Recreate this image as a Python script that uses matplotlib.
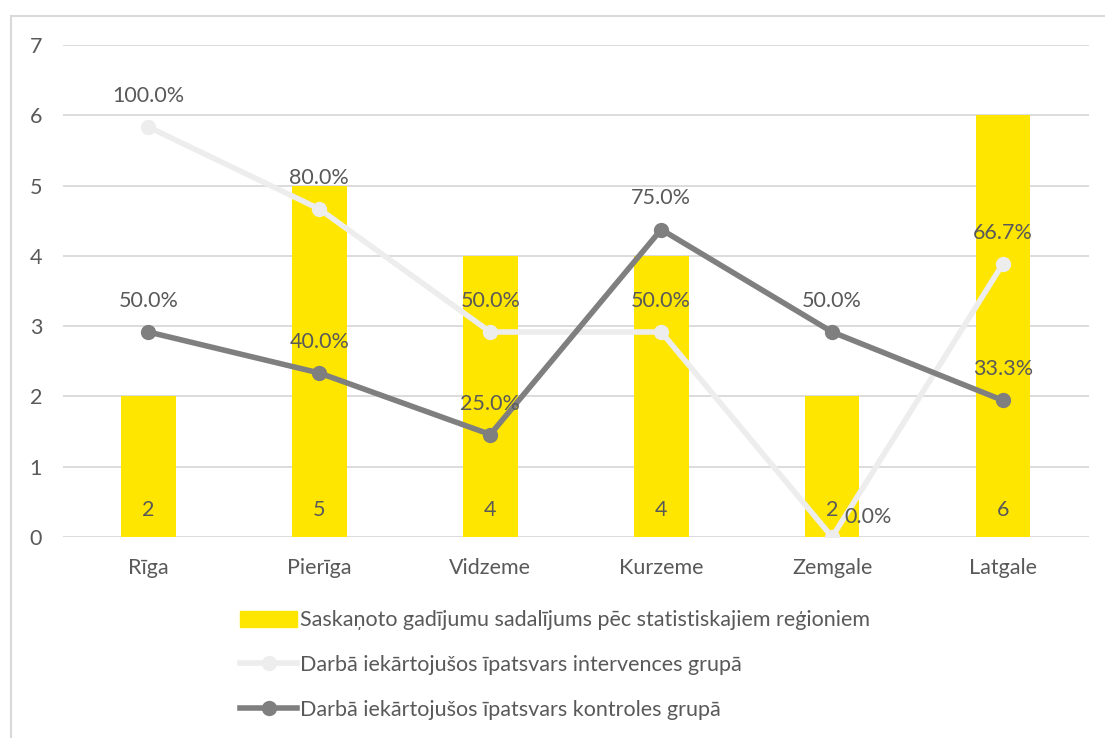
import matplotlib
matplotlib.use("Agg")
import matplotlib.pyplot as plt
from matplotlib.patches import Rectangle
from matplotlib.lines import Line2D
import numpy as np

plt.rcParams['font.family'] = ['Lato', 'DejaVu Sans']

regions = ['Rīga', 'Pierīga', 'Vidzeme', 'Kurzeme', 'Zemgale', 'Latgale']
cases = [2, 5, 4, 4, 2, 6]
share_intervention = [1.0, 0.8, 0.5, 0.5, 0.0, 0.667]
share_control = [0.5, 0.4, 0.25, 0.75, 0.5, 0.333]

bar_label = 'Saskaņoto gadījumu sadalījums pēc statistiskajiem reģioniem'
int_label = 'Darbā iekārtojušos īpatsvars intervences grupā'
ctl_label = 'Darbā iekārtojušos īpatsvars kontroles grupā'

yellow = '#FFE600'
light = '#EDEDED'
dark = '#7F7F7F'
text_c = '#595959'
grid_c = '#D9D9D9'
fs = 15.5

fig = plt.figure(figsize=(11.05, 7.38), dpi=100)
# chart area border (runs off the right and bottom edges)
fig.patches.append(Rectangle((11 / 1105, -0.1), 1.2, 1 - 16 / 738 + 0.1,
                             transform=fig.transFigure, fill=False,
                             edgecolor=grid_c, lw=1.5))

ax = fig.add_axes([63 / 1105, 1 - 537 / 738, (1088.5 - 63) / 1105, (537 - 45) / 738])
x = np.arange(len(regions))

ax.bar(x, cases, width=0.32, color=yellow, zorder=2)
ax.set_xlim(-0.5, len(regions) - 0.5)
ax.set_ylim(0, 7)
ax.set_yticks(range(8))
ax.grid(axis='y', color=grid_c, lw=1.3, zorder=0)
ax.set_axisbelow(True)
for s in ax.spines.values():
    s.set_visible(False)
ax.tick_params(length=0, colors=text_c, labelsize=fs)
ax.tick_params(axis='y', pad=15)
ax.tick_params(axis='x', pad=15)
ax.set_xticks(x)
ax.set_xticklabels(regions)

for xi, v in zip(x, cases):
    ax.annotate(str(v), (xi, 0), xytext=(0, 27), textcoords='offset pixels',
                ha='center', va='center', fontsize=fs, color=text_c, zorder=5)

ax2 = ax.twinx()
ax2.set_ylim(0, 1.2)
ax2.axis('off')
ax2.plot(x, share_intervention, color=light, lw=4, marker='o', ms=10, zorder=3,
         solid_capstyle='round')
ax2.plot(x, share_control, color=dark, lw=4, marker='o', ms=10, zorder=4,
         solid_capstyle='round')

for xi, v in zip(x, share_intervention):
    if v == 0:
        off = (36, 20)
    else:
        off = (0, 31)
    ax2.annotate(f'{v * 100:.1f}%', (xi, v), xytext=off, textcoords='offset pixels',
                 ha='center', va='center', fontsize=fs, color=text_c, zorder=6)
for xi, v in zip(x, share_control):
    ax2.annotate(f'{v * 100:.1f}%', (xi, v), xytext=(0, 31), textcoords='offset pixels',
                 ha='center', va='center', fontsize=fs, color=text_c, zorder=6)

handles = [
    Rectangle((0, 0), 1, 1, color=yellow),
    Line2D([], [], color=light, lw=4, marker='o', ms=10),
    Line2D([], [], color=dark, lw=4, marker='o', ms=10),
]
fig.legend(handles, [bar_label, int_label, ctl_label], loc='upper left',
           bbox_to_anchor=(221 / 1105, 1 - 591 / 738), frameon=False,
           fontsize=fs, labelcolor=text_c, handlelength=2.65, handleheight=0.75,
           handletextpad=0.1, labelspacing=1.15)

fig.savefig('out.png', dpi=100)
